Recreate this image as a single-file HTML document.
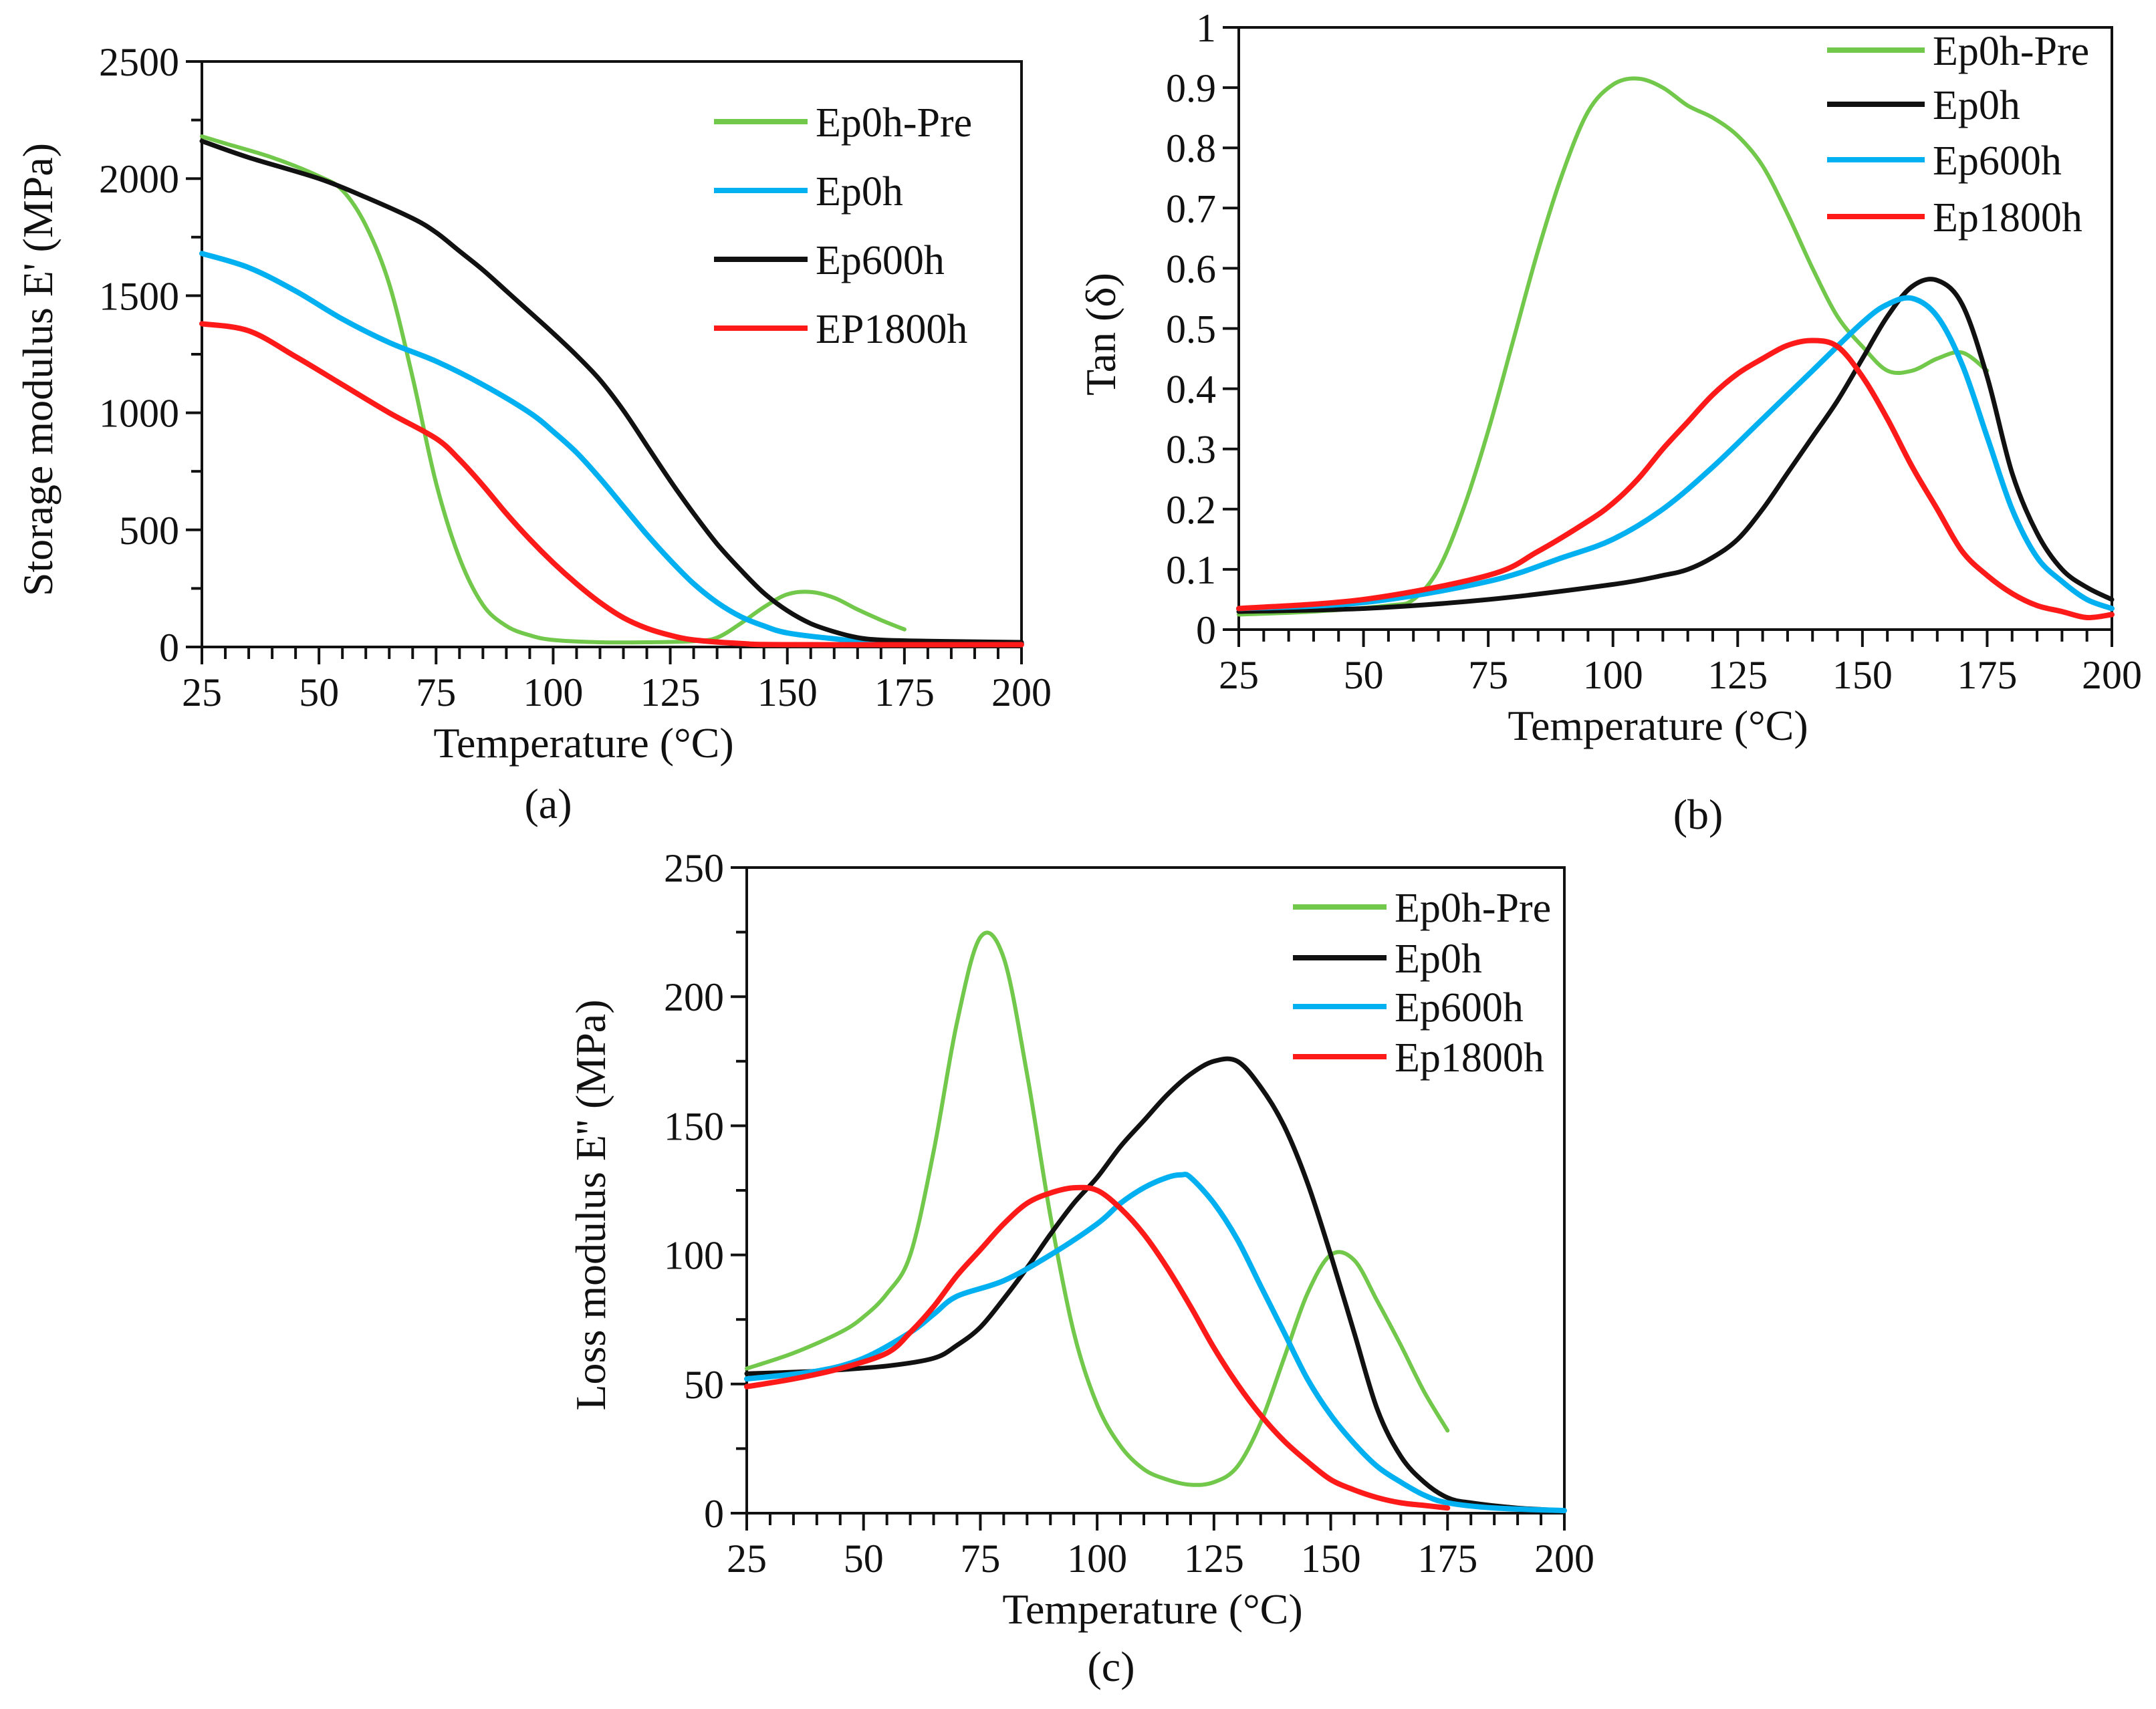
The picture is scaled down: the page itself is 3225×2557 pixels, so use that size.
<!DOCTYPE html>
<html><head><meta charset="utf-8">
<style>
body{margin:0;background:#fff;}
svg{display:block;}
text{font-family:"Liberation Serif","Times New Roman",serif;fill:#111;}
</style></head>
<body>
<svg id="fig" width="3225" height="2557" viewBox="0 0 3225 2557" xmlns="http://www.w3.org/2000/svg" font-family="Liberation Serif, serif"></svg>
<script>
// ---- Data: panel (a) storage modulus ----
const aGreenX=[25,30,40,50,55,60,65,70,75,80,85,90,95,100,110,120,130,135,140,145,150,155,160,165,170,175];
const aGreenY=[2180,2150,2090,2010,1950,1800,1550,1150,700,380,180,90,50,30,20,20,25,40,100,170,225,235,210,160,115,75];
const aBlackX=[25,35,50,60,70,75,80,85,90,95,100,105,110,115,120,125,130,135,140,145,150,155,160,165,170,180,200];
const aBlackY=[2160,2090,2000,1920,1830,1770,1690,1610,1520,1430,1340,1245,1140,1010,860,710,570,440,330,230,155,100,65,40,30,25,20];
const aBlueX=[25,35,45,55,65,75,85,95,100,105,110,115,120,125,130,135,140,145,150,160,170,200];
const aBlueY=[1680,1620,1520,1400,1300,1220,1120,1000,920,830,720,600,480,370,270,190,130,90,60,35,20,15];
const aRedX=[25,35,45,55,65,75,80,85,90,95,100,105,110,115,120,125,130,140,150,200];
const aRedY=[1380,1350,1240,1120,1000,890,800,690,570,460,360,270,190,125,80,50,30,15,10,10];
const aYTicks=[0,500,1000,1500,2000,2500];
// ---- Data: panel (b) tan delta ----
const bGreenX=[25,40,55,60,65,70,75,80,85,90,95,100,105,110,115,120,125,130,135,140,145,150,155,160,165,170,175];
const bGreenY=[0.025,0.03,0.04,0.05,0.1,0.2,0.33,0.48,0.63,0.76,0.86,0.905,0.915,0.9,0.87,0.85,0.82,0.77,0.69,0.6,0.52,0.47,0.43,0.43,0.45,0.46,0.43];
const bBlackX=[25,50,75,100,110,115,120,125,130,135,140,145,150,155,160,165,170,175,180,185,190,195,200];
const bBlackY=[0.03,0.035,0.05,0.075,0.09,0.1,0.12,0.15,0.2,0.26,0.32,0.38,0.45,0.52,0.57,0.58,0.54,0.42,0.26,0.16,0.1,0.07,0.05];
const bBlueX=[25,50,75,90,100,110,120,130,140,150,155,160,165,170,175,180,185,190,195,200];
const bBlueY=[0.035,0.045,0.08,0.12,0.15,0.2,0.27,0.35,0.43,0.51,0.54,0.55,0.52,0.44,0.32,0.2,0.12,0.08,0.05,0.035];
const bRedX=[25,50,75,85,95,100,105,110,115,120,125,130,135,140,145,150,155,160,165,170,175,180,185,190,195,200];
const bRedY=[0.035,0.05,0.09,0.13,0.18,0.21,0.25,0.3,0.345,0.39,0.425,0.45,0.472,0.48,0.47,0.42,0.35,0.27,0.2,0.13,0.09,0.06,0.04,0.03,0.02,0.025];
const bYTicks=[0,0.1,0.2,0.3,0.4,0.5,0.6,0.7,0.8,0.9,1];
const bYLabels=["0","0.1","0.2","0.3","0.4","0.5","0.6","0.7","0.8","0.9","1"];
// ---- Data: panel (c) loss modulus ----
const cGreenX=[25,35,45,50,55,60,65,70,75,80,85,90,95,100,105,110,115,120,125,130,135,140,145,150,155,160,165,170,175];
const cGreenY=[56,62,70,76,85,100,140,190,223,215,170,115,70,42,26,17,13,11,12,18,35,60,85,100,98,82,65,47,32];
const cBlackX=[25,40,55,65,70,75,80,85,90,95,100,105,110,115,120,125,130,135,140,145,150,155,160,165,170,175,180,190,200];
const cBlackY=[54,55,57,60,65,72,83,95,108,120,130,142,152,162,170,175,175,165,150,128,100,70,40,22,12,6,4,2,1];
const cBlueX=[25,40,50,60,65,70,80,90,100,105,110,115,118,120,125,130,135,140,145,150,155,160,165,170,175,185,200];
const cBlueY=[52,55,60,70,77,84,90,100,112,120,126,130,131,130,120,106,88,70,52,38,27,18,12,7,4,2,1];
const cRedX=[25,35,45,55,60,65,70,75,80,85,90,95,100,105,110,115,120,125,130,135,140,145,150,155,160,165,170,175];
const cRedY=[49,52,56,62,70,80,92,102,112,120,124,126,125,118,108,95,80,64,50,38,28,20,13,9,6,4,3,2];
const cYTicks=[0,50,100,150,200,250];
const xTicks=[25,50,75,100,125,150,175,200];

const NS="http://www.w3.org/2000/svg";
const svg=document.getElementById('fig');
const FF='"Liberation Serif", "Times New Roman", serif';
function mk(tag,attrs,parent){const e=document.createElementNS(NS,tag);for(const k in attrs)e.setAttribute(k,attrs[k]);if(tag==='text')e.setAttribute('font-family',FF);(parent||svg).appendChild(e);return e;}
function smooth(pts){let d=`M${pts[0][0].toFixed(1)},${pts[0][1].toFixed(1)}`;
 for(let i=0;i<pts.length-1;i++){const p0=pts[Math.max(0,i-1)],p1=pts[i],p2=pts[i+1],p3=pts[Math.min(pts.length-1,i+2)];
  const c1=[p1[0]+(p2[0]-p0[0])/6,p1[1]+(p2[1]-p0[1])/6],c2=[p2[0]-(p3[0]-p1[0])/6,p2[1]-(p3[1]-p1[1])/6];
  d+=`C${c1[0].toFixed(1)},${c1[1].toFixed(1)} ${c2[0].toFixed(1)},${c2[1].toFixed(1)} ${p2[0].toFixed(1)},${p2[1].toFixed(1)}`;}
 return d;}

function panel(o){
 const g=mk('g',{});
 
 
 const sx=v=>o.L+(v-25)/(175)*(o.R-o.L);
 const sy=v=>o.B-(v-o.ymin)/(o.ymax-o.ymin)*(o.B-o.T);
 const frame=mk('rect',{x:o.L,y:o.T,width:o.R-o.L,height:o.B-o.T,fill:'none',stroke:'#111','stroke-width':4},g);
 
 
 for(let v=25;v<=200;v+=5){const major=(v-25)%25===0;const t=mk('line',{x1:sx(v),x2:sx(v),y1:o.B,y2:o.B+(major?26:18),stroke:'#111','stroke-width':4},g);
  }
 xTicks.forEach(v=>{const t=mk('text',{x:sx(v),y:o.B+88,'font-size':60,'text-anchor':'middle'},g);t.textContent=v;
  });
 o.yt.forEach((v,i)=>{const t=mk('line',{x1:o.L-24,x2:o.L,y1:sy(v),y2:sy(v),stroke:'#111','stroke-width':4},g);
  
  if(o.minor&&i<o.yt.length-1){const m=(v+o.yt[i+1])/2;const mt=mk('line',{x1:o.L-16,x2:o.L,y1:sy(m),y2:sy(m),stroke:'#111','stroke-width':4},g);
   }
  const l=mk('text',{x:o.L-34,y:sy(v)+21,'font-size':60,'text-anchor':'end'},g);l.textContent=o.yl?o.yl[i]:v;
  });
 const xt=mk('text',{x:o.xtx,y:o.B+165,'font-size':64,'text-anchor':'middle'},g);xt.textContent='Temperature (\u00B0C)';
 
 const yt=mk('text',{x:0,y:0,'font-size':64,'text-anchor':'middle',transform:`translate(${o.ytx},${o.yty}) rotate(-90)`},g);yt.textContent=o.ytitle;
 
 const pl=mk('text',{x:o.plx,y:o.ply,'font-size':64,'text-anchor':'middle'},g);pl.textContent=o.plabel;
 
 o.series.forEach(s=>{const pts=s.x.map((x,i)=>[sx(x),sy(s.y[i])]);
  const p=mk('path',{d:smooth(pts),fill:'none',stroke:s.c,'stroke-width':s.w,'stroke-linejoin':'round','stroke-linecap':'round'},g);
  });
 o.legend.forEach((e,i)=>{const y=o.lgy[i];
  const ln=mk('line',{x1:o.lgx1,x2:o.lgx2,y1:y,y2:y,stroke:e.c,'stroke-width':8},g);
  
  const t=mk('text',{x:o.lgx2+12,y:y+22,'font-size':62},g);t.textContent=e.t;
  });
}
const GR='#72c84a',BL='#00b0f0',BK='#111',RD='#ff1a1a';
panel({name:'storage-modulus-chart',L:302,R:1528,T:92,B:968,ymin:0,ymax:2500,yt:aYTicks,minor:true,
 xtx:873,ytx:78,yty:553,ytitle:"Storage modulus E' (MPa)",plx:820,ply:1224,plabel:'(a)',
 series:[{id:'series-ep0h-pre',x:aGreenX,y:aGreenY,c:GR,w:6},{id:'series-ep0h',x:aBlueX,y:aBlueY,c:BL,w:8},
  {id:'series-ep600h',x:aBlackX,y:aBlackY,c:BK,w:7},{id:'series-ep1800h',x:aRedX,y:aRedY,c:RD,w:8}],
 legend:[{t:'Ep0h-Pre',c:GR},{t:'Ep0h',c:BL},{t:'Ep600h',c:BK},{t:'EP1800h',c:RD}],
 lgx1:1068,lgx2:1208,lgy:[182,285,388,491]});
panel({name:'tan-delta-chart',L:1853,R:3159,T:41,B:942,ymin:0,ymax:1,yt:bYTicks,yl:bYLabels,minor:false,
 xtx:2480,ytx:1668,yty:500,ytitle:'Tan (\u03B4)',plx:2540,ply:1240,plabel:'(b)',
 series:[{id:'series-ep0h-pre',x:bGreenX,y:bGreenY,c:GR,w:6},{id:'series-ep0h',x:bBlackX,y:bBlackY,c:BK,w:7},
  {id:'series-ep600h',x:bBlueX,y:bBlueY,c:BL,w:8},{id:'series-ep1800h',x:bRedX,y:bRedY,c:RD,w:8}],
 legend:[{t:'Ep0h-Pre',c:GR},{t:'Ep0h',c:BK},{t:'Ep600h',c:BL},{t:'Ep1800h',c:RD}],
 lgx1:2733,lgx2:2879,lgy:[75,156,239,324]});
panel({name:'loss-modulus-chart',L:1117,R:2340,T:1298,B:2264,ymin:0,ymax:250,yt:cYTicks,minor:true,
 xtx:1724,ytx:905,yty:1803,ytitle:"Loss modulus E'' (MPa)",plx:1662,ply:2515,plabel:'(c)',
 series:[{id:'series-ep0h-pre',x:cGreenX,y:cGreenY,c:GR,w:6},{id:'series-ep0h',x:cBlackX,y:cBlackY,c:BK,w:7},
  {id:'series-ep600h',x:cBlueX,y:cBlueY,c:BL,w:8},{id:'series-ep1800h',x:cRedX,y:cRedY,c:RD,w:8}],
 legend:[{t:'Ep0h-Pre',c:GR},{t:'Ep0h',c:BK},{t:'Ep600h',c:BL},{t:'Ep1800h',c:RD}],
 lgx1:1934,lgx2:2074,lgy:[1357,1433,1506,1581]});
</script>
</body></html>
